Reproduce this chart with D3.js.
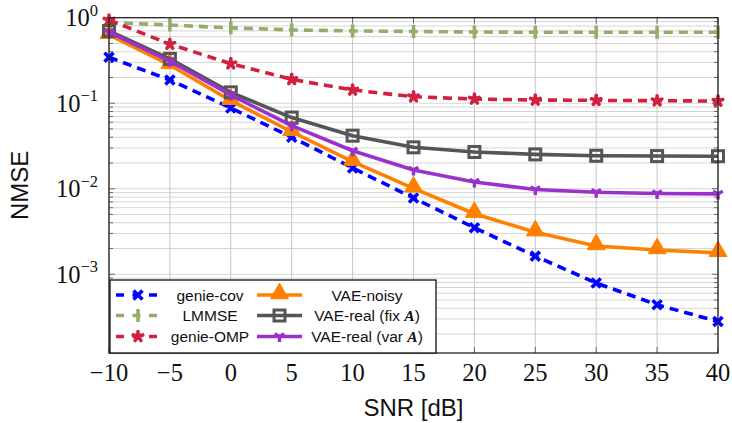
<!DOCTYPE html>
<html>
<head>
<meta charset="utf-8">
<script src="https://cdn.jsdelivr.net/npm/d3@7"></script>
<style>
  body { margin: 0; background: #fff; }
  svg { display: block; }
</style>
</head>
<body>
<div id="hook-nmse"></div>
<script>
'use strict';

// SNR grid (dB)
var snr = [-10, -5, 0, 5, 10, 15, 20, 25, 30, 35, 40];

// NMSE per method
var genieCov   = [0.345, 0.187, 0.088, 0.040, 0.0175, 0.0078, 0.0035, 0.00163, 0.00079, 0.00044, 0.00028];
var lmmse      = [0.88, 0.82, 0.76, 0.72, 0.70, 0.69, 0.68, 0.675, 0.675, 0.675, 0.675];
var genieOmp   = [0.94, 0.49, 0.29, 0.19, 0.143, 0.119, 0.112, 0.109, 0.108, 0.107, 0.106];
var vaeNoisy   = [0.63, 0.28, 0.107, 0.0464, 0.0207, 0.0101, 0.0051, 0.0031, 0.00214, 0.00192, 0.00178];
var vaeRealFix = [0.70, 0.33, 0.134, 0.068, 0.0417, 0.0305, 0.0269, 0.0252, 0.0243, 0.0241, 0.024];
var vaeRealVar = [0.68, 0.31, 0.125, 0.0546, 0.0278, 0.0166, 0.012, 0.0098, 0.0091, 0.0088, 0.0087];

var xTicks = [-10, -5, 0, 5, 10, 15, 20, 25, 30, 35, 40];
var yDecades = [0, -1, -2, -3];

var series = [
  { name: 'genie-cov', values: genieCov, color: '#0000ff', dash: '9,6', mark: 'x' },
  { name: 'LMMSE', values: lmmse, color: '#93ad6d', dash: '9,6', mark: 'bar' },
  { name: 'genie-OMP', values: genieOmp, color: '#d0213f', dash: '9,6', mark: 'star' },
  { name: 'VAE-noisy', values: vaeNoisy, color: '#ff8000', dash: null, mark: 'tri' },
  { name: 'VAE-real (fix ', bold: 'A', values: vaeRealFix, color: '#555555', dash: null, mark: 'square' },
  { name: 'VAE-real (var ', bold: 'A', values: vaeRealVar, color: '#9932cc', dash: null, mark: 'merc' }
];

var options = {
  width: 732,
  height: 423,
  left: 109,
  right: 718,
  top: 17.7,
  bottom: 353,
  lineWidth: 3.6
};

function drawMark(g, kind, color) {
  if (kind === 'x') {
    g.append('path').attr('d', 'M-4.5,-4.5L4.5,4.5M-4.5,4.5L4.5,-4.5')
      .style('stroke', color).style('stroke-width', 3.6).style('fill', 'none');
  } else if (kind === 'bar') {
    g.append('path').attr('d', 'M0,-6.5L0,6.5')
      .style('stroke', color).style('stroke-width', 3.6);
  } else if (kind === 'star') {
    var d = '';
    for (var k = 0; k < 5; k++) {
      var a = -Math.PI / 2 + k * 2 * Math.PI / 5;
      d += 'M0,0L' + (5 * Math.cos(a)).toFixed(2) + ',' + (5 * Math.sin(a)).toFixed(2);
    }
    g.append('path').attr('d', d)
      .style('stroke', color).style('stroke-width', 3.6).style('stroke-linecap', 'round');
    g.append('circle').attr('r', 3.4).style('fill', color);
  } else if (kind === 'tri') {
    g.append('path').attr('d', d3.symbol(d3.symbolTriangle, 140)())
      .attr('transform', 'translate(0,-1.5)')
      .style('fill', color).style('stroke', color).style('stroke-width', 1);
  } else if (kind === 'square') {
    g.append('rect').attr('x', -5.5).attr('y', -5.5).attr('width', 11).attr('height', 11)
      .style('fill', 'none').style('stroke', color).style('stroke-width', 3);
  } else if (kind === 'merc') {
    g.append('path').attr('d', 'M0,0L0,5.5M0,0L-4.8,-2.8M0,0L4.8,-2.8')
      .style('stroke', color).style('stroke-width', 3.4).style('fill', 'none');
  }
}

function update(options) {
  var svg = d3.select('#hook-nmse')
    .append('svg')
    .attr('width', options.width)
    .attr('height', options.height);

  var x = d3.scaleLinear().domain([-10, 40]).range([options.left, options.right]);
  var y = d3.scaleLog().domain([1.2e-4, 1]).range([options.bottom, options.top]);

  var grid = svg.append('g');

  // y minor + major grid
  var yMinor = [];
  for (var e = -4; e < 0; e++) {
    for (var m = 1; m < 10; m++) {
      var v = m * Math.pow(10, e);
      if (v >= 1.2e-4 && v <= 1) yMinor.push(v);
    }
  }
  grid.selectAll('line.ygrid').data(yMinor).enter().append('line')
    .attr('x1', options.left).attr('x2', options.right)
    .attr('y1', function(d) { return y(d); }).attr('y2', function(d) { return y(d); })
    .style('stroke', '#d6d6d6').style('stroke-width', 1);

  // x major grid
  grid.selectAll('line.xgrid').data(xTicks).enter().append('line')
    .attr('x1', function(d) { return x(d); }).attr('x2', function(d) { return x(d); })
    .attr('y1', options.top).attr('y2', options.bottom)
    .style('stroke', '#c8c8c8').style('stroke-width', 1);

  // ticks (inside, both sides)
  var ticks = svg.append('g').style('stroke', '#6a6a6a').style('stroke-width', 1);
  yMinor.forEach(function(d) {
    var isMajor = Math.abs(Math.log10(d) - Math.round(Math.log10(d))) < 1e-9;
    var len = isMajor ? 6 : 4;
    ticks.append('line').attr('x1', options.left).attr('x2', options.left + len)
      .attr('y1', y(d)).attr('y2', y(d));
    ticks.append('line').attr('x1', options.right).attr('x2', options.right - len)
      .attr('y1', y(d)).attr('y2', y(d));
  });
  xTicks.forEach(function(d) {
    ticks.append('line').attr('x1', x(d)).attr('x2', x(d))
      .attr('y1', options.bottom).attr('y2', options.bottom - 6);
    ticks.append('line').attr('x1', x(d)).attr('x2', x(d))
      .attr('y1', options.top).attr('y2', options.top + 6);
  });

  // series
  var line = d3.line()
    .x(function(d, i) { return x(snr[i]); })
    .y(function(d) { return y(d); });

  series.forEach(function(s) {
    svg.append('path')
      .attr('d', line(s.values))
      .style('fill', 'none')
      .style('stroke', s.color)
      .style('stroke-width', options.lineWidth)
      .style('stroke-linejoin', 'round')
      .style('stroke-dasharray', s.dash);
    s.values.forEach(function(v, i) {
      var g = svg.append('g').attr('transform', 'translate(' + x(snr[i]) + ',' + y(v) + ')');
      drawMark(g, s.mark, s.color);
    });
  });

  // axis box
  svg.append('rect')
    .attr('x', options.left).attr('y', options.top)
    .attr('width', options.right - options.left)
    .attr('height', options.bottom - options.top)
    .style('fill', 'none').style('stroke', '#222').style('stroke-width', 1.3);

  // x tick labels
  svg.selectAll('text.xt').data(xTicks).enter().append('text')
    .attr('x', function(d) { return x(d); })
    .attr('y', 381)
    .attr('text-anchor', 'middle')
    .style('font-family', '"Liberation Serif", "DejaVu Serif", serif')
    .style('font-size', '24.5px')
    .style('fill', '#111')
    .text(function(d) { return d < 0 ? '\u2212' + Math.abs(d) : d; });

  // y tick labels
  yDecades.forEach(function(p) {
    var t = svg.append('text')
      .attr('x', 98)
      .attr('y', y(Math.pow(10, p)) + 8.5)
      .attr('text-anchor', 'end')
      .style('font-family', '"Liberation Serif", "DejaVu Serif", serif')
      .style('font-size', '24.5px')
      .style('fill', '#111');
    t.append('tspan').text('10');
    t.append('tspan').attr('dy', -10.5).style('font-size', '16.5px')
      .text(p < 0 ? '\u2212' + Math.abs(p) : String(p));
  });

  // axis titles
  svg.append('text')
    .attr('x', (options.left + options.right) / 2)
    .attr('y', 416)
    .attr('text-anchor', 'middle')
    .style('font-family', '"Liberation Sans", Arial, sans-serif')
    .style('font-size', '24px')
    .style('fill', '#111')
    .text('SNR [dB]');

  svg.append('text')
    .attr('transform', 'translate(28,' + ((options.top + options.bottom) / 2) + ') rotate(-90)')
    .attr('text-anchor', 'middle')
    .style('font-family', '"Liberation Sans", Arial, sans-serif')
    .style('font-size', '24px')
    .style('fill', '#111')
    .text('NMSE');

  // legend
  var lg = svg.append('g');
  lg.append('rect')
    .attr('x', 110).attr('y', 280).attr('width', 326).attr('height', 73)
    .style('fill', '#fff').style('stroke', '#111').style('stroke-width', 1.3);

  var rowY = [295, 315.5, 336.5];
  var cols = [
    { x1: 116, x2: 160, tx: 210 },
    { x1: 257, x2: 302, tx: 367 }
  ];
  series.forEach(function(s, i) {
    var c = cols[Math.floor(i / 3)];
    var ry = rowY[i % 3];
    lg.append('line')
      .attr('x1', c.x1).attr('x2', c.x2).attr('y1', ry).attr('y2', ry)
      .style('stroke', s.color).style('stroke-width', options.lineWidth)
      .style('stroke-dasharray', s.dash ? '8,8.5' : null);
    var g = lg.append('g').attr('transform', 'translate(' + ((c.x1 + c.x2) / 2) + ',' + ry + ')');
    drawMark(g, s.mark, s.color);
    var t = lg.append('text')
      .attr('x', c.tx).attr('y', ry + 5.5)
      .attr('text-anchor', 'middle')
      .style('font-family', '"Liberation Sans", Arial, sans-serif')
      .style('font-size', '15.5px')
      .style('fill', '#111');
    t.append('tspan').text(s.name);
    if (s.bold) {
      t.append('tspan')
        .style('font-family', '"Liberation Serif", "DejaVu Serif", serif')
        .style('font-weight', 'bold').style('font-style', 'italic')
        .text(s.bold);
      t.append('tspan').text(')');
    }
  });
}

update(options);
</script>
</body>
</html>
